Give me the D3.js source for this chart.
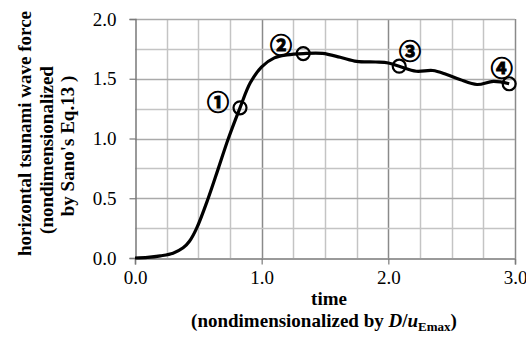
<!DOCTYPE html>
<html>
<head>
<meta charset="utf-8">
<script src="https://cdn.jsdelivr.net/npm/d3@7"></script>
<style>
  body { margin: 0; background: #fff; }
  svg { display: block; }
  text { font-family: "Liberation Serif", "Times New Roman", serif; fill: #000; }
</style>
</head>
<body>
<svg id="chart" width="526" height="342"></svg>
<script>
// force time history
var times  = [0, 0.1, 0.2, 0.3, 0.38, 0.43, 0.487, 0.578, 0.658, 0.737, 0.829, 0.91, 1.0, 1.1, 1.2, 1.33,
              1.48, 1.62, 1.75, 1.9, 2.0, 2.086, 2.22, 2.35, 2.46, 2.565, 2.70, 2.83, 2.954];
var forces = [0, 0.005, 0.018, 0.04, 0.085, 0.14, 0.25, 0.5, 0.75, 1.0, 1.257, 1.466, 1.60, 1.675, 1.70, 1.711,
              1.712, 1.68, 1.645, 1.64, 1.632, 1.605, 1.563, 1.569, 1.536, 1.494, 1.452, 1.478, 1.458];

// marked instants and their labels
var markTimes   = [0.829, 1.328, 2.086, 2.954];
var markForces  = [1.257, 1.711, 1.605, 1.458];
var markLabels  = ["\u2460", "\u2461", "\u2462", "\u2463"];
var labelTimes  = [0.655, 1.153, 2.171, 2.895];
var labelForces = [1.326, 1.803, 1.753, 1.605];

var xTicks = [0, 1, 2, 3];
var yTicks = [0, 0.5, 1.0, 1.5, 2.0];
var xGrid = [0.25, 0.5, 0.75, 1, 1.25, 1.5, 1.75, 2, 2.25, 2.5, 2.75, 3];
var yGrid = [0.25, 0.5, 0.75, 1, 1.25, 1.5, 1.75, 2];

var svg = d3.select("#chart");
var x = d3.scaleLinear().domain([0, 3]).range([135, 515]);
var y = d3.scaleLinear().domain([0, 2]).range([258, 19]);
function px(v) { return Math.round(v) + 0.5; }

// grid
var grid = svg.append("g").attr("class", "grid");
xGrid.forEach(function(d) {
  grid.append("line")
      .attr("x1", px(x(d))).attr("x2", px(x(d)))
      .attr("y1", y(0)).attr("y2", y(2))
      .attr("stroke", d % 1 === 0 ? "#8a8a8a" : "#c4c4c4")
      .attr("stroke-width", 1.5);
});
yGrid.forEach(function(d) {
  grid.append("line")
      .attr("x1", x(0)).attr("x2", x(3))
      .attr("y1", px(y(d))).attr("y2", px(y(d)))
      .attr("stroke", d % 0.5 === 0 ? "#aaaaaa" : "#c4c4c4")
      .attr("stroke-width", 1.5);
});

// axes
var xAxis = svg.append("g").attr("transform", "translate(0," + px(y(0)) + ")")
    .call(d3.axisBottom(x).tickValues(xTicks).tickSize(6).tickPadding(6).tickFormat(d3.format(".1f")));
var yAxis = svg.append("g").attr("transform", "translate(" + px(x(0)) + ",0)")
    .call(d3.axisLeft(y).tickValues(yTicks).tickSize(6).tickPadding(13).tickFormat(d3.format(".1f")));
[xAxis, yAxis].forEach(function(a) {
  a.select(".domain").attr("stroke", "#7a7a7a").attr("stroke-width", 1.5);
  a.selectAll(".tick line").attr("stroke", "#7a7a7a").attr("stroke-width", 1.2);
  a.selectAll(".tick text").style("font-family", "Liberation Serif").style("font-size", "19px");
});

// curve
var line = d3.line()
    .x(function(d, i) { return x(times[i]); })
    .y(function(d, i) { return y(forces[i]); })
    .curve(d3.curveCatmullRom.alpha(0.5));
svg.append("path").datum(forces)
    .attr("d", line)
    .attr("fill", "none").attr("stroke", "#000").attr("stroke-width", 3.2);

// markers
svg.append("g").selectAll("circle").data(markTimes).enter().append("circle")
    .attr("cx", function(d) { return x(d); })
    .attr("cy", function(d, i) { return y(markForces[i]); })
    .attr("r", 6.5)
    .attr("fill", "none").attr("stroke", "#000").attr("stroke-width", 2.2);

svg.append("g").selectAll("text").data(markLabels).enter().append("text")
    .attr("x", function(d, i) { return x(labelTimes[i]); })
    .attr("y", function(d, i) { return y(labelForces[i]); })
    .attr("text-anchor", "middle").attr("dominant-baseline", "central")
    .attr("stroke", "#000").attr("stroke-width", 1)
    .style("font-family", "'Noto Sans CJK JP', 'DejaVu Sans', sans-serif")
    .style("font-weight", "bold").style("font-size", "22px")
    .text(function(d) { return d; });

// axis titles
svg.append("text").attr("x", 329).attr("y", 305)
    .attr("text-anchor", "middle").style("font-weight", "bold").style("font-size", "19px")
    .text("time");
var t2 = svg.append("text").attr("x", 324).attr("y", 327)
    .attr("text-anchor", "middle").style("font-weight", "bold").style("font-size", "19px");
t2.append("tspan").text("(nondimensionalized by ");
t2.append("tspan").style("font-style", "italic").text("D");
t2.append("tspan").text("/");
t2.append("tspan").style("font-style", "italic").text("u");
t2.append("tspan").attr("dy", 4).style("font-size", "13px").text("Emax");
t2.append("tspan").attr("dy", -4).text(")");

var yTitle = ["horizontal tsunami wave force", "(nondimensionalized", "by Sano's Eq.13 )"];
var yTitleX = [25, 47, 68];
var yTitleC = [133.5, 150, 146];
svg.append("g").selectAll("text").data(yTitle).enter().append("text")
    .attr("transform", function(d, i) { return "translate(" + (yTitleX[i] + 6) + "," + yTitleC[i] + ") rotate(-90)"; })
    .attr("text-anchor", "middle").style("font-weight", "bold").style("font-size", "19px")
    .text(function(d) { return d; });
</script>
</body>
</html>
